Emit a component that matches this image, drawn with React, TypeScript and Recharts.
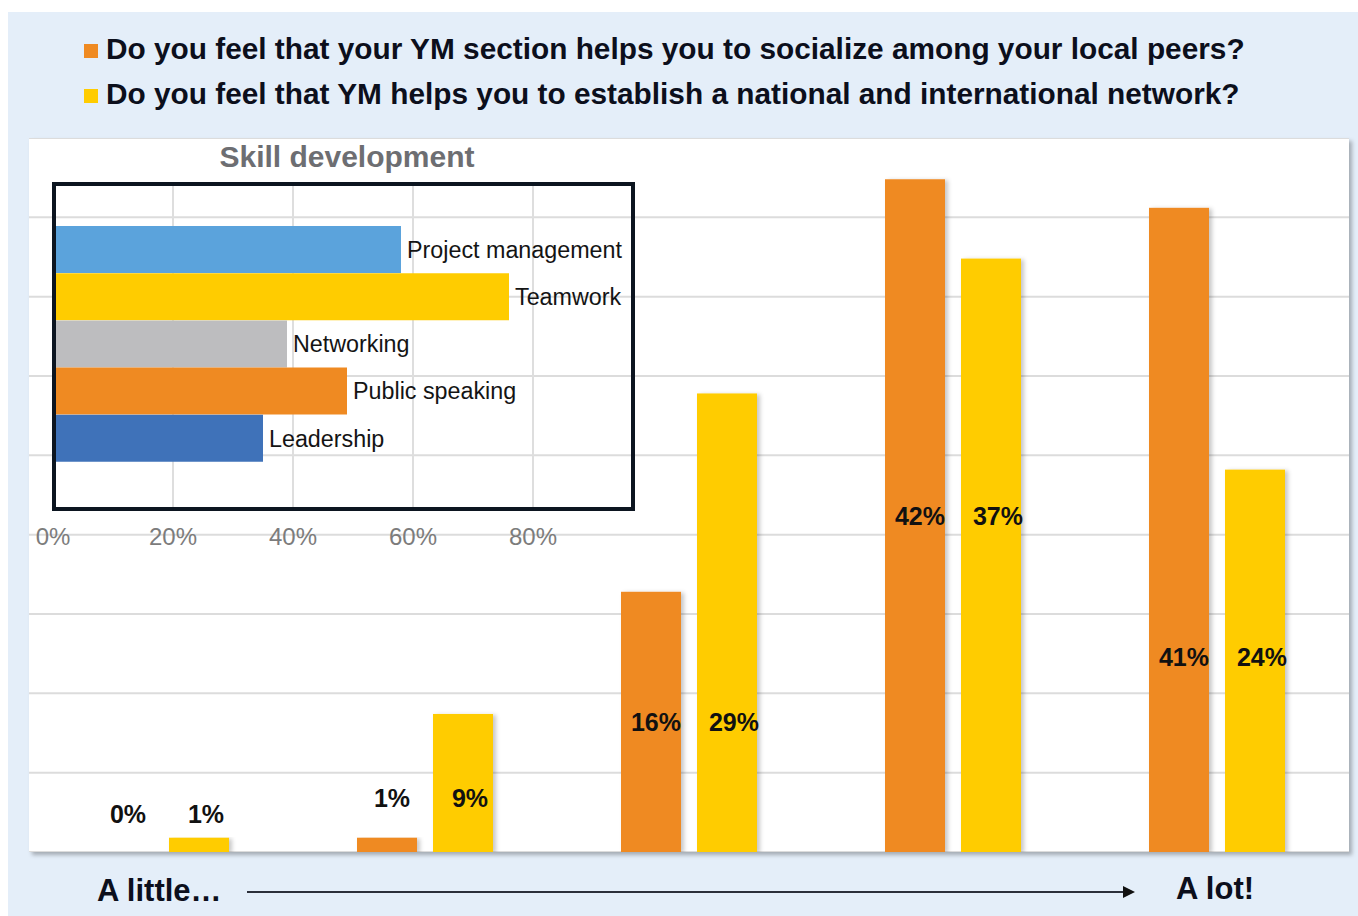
import React from 'react';
import { BarChart, Bar, XAxis, YAxis, CartesianGrid, LabelList, Cell } from 'recharts';

// answer scale, 1 = "a little" ... 5 = "a lot"
const levels = ['1', '2', '3', '4', '5'];
const socializeShare = [0, 0.9, 16.4, 42.4, 40.6];
const networkShare = [0.9, 8.7, 28.9, 37.4, 24.1];
// height (in % units) where the value labels of each group sit
const labelAt = [2.4, 3.4, 8.2, 21.2, 12.3];

const skills = ['Project management', 'Teamwork', 'Networking', 'Public speaking', 'Leadership'];
const skillShare = [58, 76, 39, 49, 35];
const skillTicks = [0, 20, 40, 60, 80];

const legendItems = [
    'Do you feel that your YM section helps you to socialize among your local peers?',
    'Do you feel that YM helps you to establish a national and international network?'
];

const ORANGE = '#ef8a22';
const YELLOW = '#ffcc00';
const skillColors = ['#5ba3dc', '#ffcc00', '#bdbdbf', '#ef8a22', '#3f72b9'];
const FONT = '"Liberation Sans", Arial, Helvetica, sans-serif';

const MAIN_W = 1320;
const MAIN_H = 714;
const Y_MAX = 45;
const PX_PER_UNIT = MAIN_H / Y_MAX;

const mainData = levels.map((lvl, i) => ({
    level: lvl,
    socialize: socializeShare[i],
    network: networkShare[i]
}));

const skillData = skills.map((name, i) => ({ name, value: skillShare[i] }));

const shadowBar = (fill: string) => (p: any) => {
    if (!p.height) return <g />;
    return <rect x={p.x} y={p.y} width={p.width} height={p.height} fill={fill} filter="url(#barShadow)" />;
};

const valueLabel = (dx: number) => (p: any) => {
    const { x, y, width, height, value, index } = p;
    const base = Number(y) + Number(height);
    const cy = base - labelAt[index] * PX_PER_UNIT;
    return (
        <text
            x={Number(x) + Number(width) / 2 + dx}
            y={cy}
            textAnchor="middle"
            dominantBaseline="central"
            fontFamily={FONT}
            fontWeight="bold"
            fontSize={25}
            fill="#111"
        >
            {`${Math.round(Number(value))}%`}
        </text>
    );
};

const SkillTick = ({ x, y, payload }: any) => (
    <text x={x} y={Number(y) + 20} textAnchor="middle" dominantBaseline="central"
        fontFamily={FONT} fontSize={24} fill="#7c7c7c">
        {`${payload.value}%`}
    </text>
);

export default function App() {
    return (
        <div style={{
            position: 'absolute', left: 8, top: 12, width: 1350, height: 904,
            background: '#e4eef9', fontFamily: FONT, overflow: 'hidden'
        }}>
            {/* legend */}
            {legendItems.map((txt, i) => (
                <div key={i} style={{ position: 'absolute', left: 76, top: 17 + i * 45, height: 40, display: 'flex', alignItems: 'center' }}>
                    <div style={{ width: 14, height: 14, background: i === 0 ? ORANGE : YELLOW, marginRight: 8, marginTop: 4 }} />
                    <span style={{ fontSize: 29.8, fontWeight: 'bold', color: '#0c0f1c', whiteSpace: 'nowrap' }}>{txt}</span>
                </div>
            ))}

            {/* white plot panel */}
            <div style={{
                position: 'absolute', left: 21, top: 126, width: MAIN_W, height: MAIN_H,
                background: '#fff', boxShadow: '3px 3px 4px rgba(0,0,0,0.28)'
            }} />

            <div style={{ position: 'absolute', left: 21, top: 126 }}>
                <BarChart width={MAIN_W} height={MAIN_H} data={mainData}
                    margin={{ top: 0, right: 0, bottom: 0, left: 0 }} barSize={60} barGap={16}>
                    <defs>
                        <filter id="barShadow" x="-20%" y="-5%" width="150%" height="110%">
                            <feDropShadow dx="3" dy="1" stdDeviation="2" floodColor="#000" floodOpacity="0.22" />
                        </filter>
                    </defs>
                    <CartesianGrid vertical={false} stroke="#dcdcdc" strokeWidth={2} />
                    <XAxis dataKey="level" hide />
                    <YAxis hide domain={[0, Y_MAX]} ticks={[0, 5, 10, 15, 20, 25, 30, 35, 40]} />
                    <Bar dataKey="socialize" fill={ORANGE} shape={shadowBar(ORANGE)} isAnimationActive={false}>
                        <LabelList dataKey="socialize" content={valueLabel(5)} />
                    </Bar>
                    <Bar dataKey="network" fill={YELLOW} shape={shadowBar(YELLOW)} isAnimationActive={false}>
                        <LabelList dataKey="network" content={valueLabel(7)} />
                    </Bar>
                </BarChart>
            </div>

            {/* inset: skill development */}
            <div style={{
                position: 'absolute', left: 189, top: 125, width: 300, height: 40, lineHeight: '40px',
                textAlign: 'center', fontSize: 30, fontWeight: 'bold', color: '#6d6e72', whiteSpace: 'nowrap'
            }}>
                Skill development
            </div>

            <div style={{ position: 'absolute', left: 5, top: 170 }}>
                <BarChart width={629} height={380} data={skillData} layout="vertical"
                    margin={{ top: 3, right: 10, bottom: 14, left: 40 }} barCategoryGap={0}>
                    <CartesianGrid horizontal={false} stroke="#dedede" strokeWidth={2} />
                    <XAxis type="number" domain={[0, 96.5]} ticks={skillTicks} height={40}
                        axisLine={false} tickLine={false} tick={<SkillTick />} interval={0} />
                    <YAxis type="category" dataKey="name" hide padding={{ top: 41, bottom: 46 }} />
                    <Bar dataKey="value" isAnimationActive={false}>
                        {skillData.map((d, i) => <Cell key={d.name} fill={skillColors[i]} />)}
                        <LabelList dataKey="name" position="right" offset={6}
                            style={{ fontFamily: FONT, fontSize: 23.3, fill: '#141414' }} />
                    </Bar>
                </BarChart>
            </div>

            <div style={{
                position: 'absolute', left: 44, top: 170, width: 583, height: 329,
                boxSizing: 'border-box', border: '4px solid #0c1520'
            }} />

            {/* bottom scale */}
            <div style={{ position: 'absolute', left: 89, top: 859, height: 40, lineHeight: '40px', fontSize: 31, fontWeight: 'bold', color: '#0c0f1c' }}>
                A little…
            </div>
            <svg style={{ position: 'absolute', left: 0, top: 860 }} width={1350} height={40}>
                <line x1={239} y1={20} x2={1118} y2={20} stroke="#2b2f3a" strokeWidth={2} />
                <polygon points="1115,14 1127,20 1115,26" fill="#111" />
            </svg>
            <div style={{ position: 'absolute', left: 1168, top: 857, height: 40, lineHeight: '40px', fontSize: 31, fontWeight: 'bold', color: '#0c0f1c' }}>
                A lot!
            </div>
        </div>
    );
}
